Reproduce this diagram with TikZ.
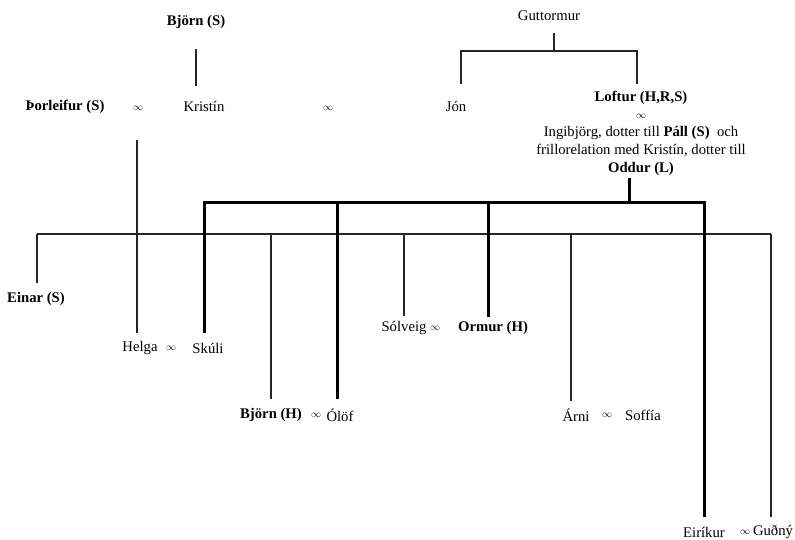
\documentclass[tikz,border=0pt]{standalone}
\usepackage{fontspec}
\setmainfont{Liberation Serif}
\begin{document}
\begin{tikzpicture}[x=1pt,y=-1pt,
  every node/.style={font=\fontsize{14.7}{17.75}\selectfont, inner sep=0pt},
  marr/.style={font=\fontsize{10}{12}\selectfont},
  thinline/.style={line width=1.1pt, draw=black!85},
  thickline/.style={line width=3pt, draw=black}]
\useasboundingbox (0,0) rectangle (795,539);
% people
\node (bjornS) at (196,22) {\textbf{Björn (S)}};
\node (thorleifur) at (65,107) {\textbf{Þorleifur (S)}};
\node[marr] (m1) at (138,108) {$\infty$};
\node (kristin) at (204,106) {Kristín};
\node[marr] (m2) at (328,108) {$\infty$};
\node (jon) at (456,106) {Jón};
\node (gutt) at (549,16) {Guttormur};
\node[align=center] (loftur) at (641,133) {\textbf{Loftur (H,R,S)}\\ {\fontsize{10}{12}\selectfont$\infty$}\\ Ingibjörg, dotter till \textbf{Páll (S)}~ och\\ frillorelation med Kristín, dotter till\\ \textbf{Oddur (L)}};
\node (einar) at (36,299) {\textbf{Einar (S)}};
\node (helga) at (140,348) {Helga};
\node[marr] (m3) at (171,348) {$\infty$};
\node (skuli) at (208,348) {Skúli};
\node (solveig) at (404,328) {Sólveig};
\node[marr] (m4) at (435,328) {$\infty$};
\node (ormur) at (493,328) {\textbf{Ormur (H)}};
\node (bjornH) at (271,415) {\textbf{Björn (H)}};
\node[marr] (m5) at (316,415) {$\infty$};
\node (olof) at (340,415) {Ólöf};
\node (arni) at (576,415) {Árni};
\node[marr] (m6) at (607,415) {$\infty$};
\node (soffia) at (643,415) {Soffía};
\node (eirikur) at (704,532) {Eiríkur};
\node[marr] (m7) at (745,532) {$\infty$};
\node (gudny) at (773,532) {Guðný};
% junction coordinates
\coordinate (bjS1) at (196,49);
\coordinate (bjS2) at (196,86);
\coordinate (g0) at (554,33);
\coordinate (g1) at (554,51);
\coordinate (gl) at (461,51);
\coordinate (gle) at (461,84);
\coordinate (gr) at (637,51);
\coordinate (gre) at (637,84);
\coordinate (t0) at (137,140);
\coordinate (t1) at (137,333);
\coordinate (hL) at (37,234);
\coordinate (hR) at (771,234);
\coordinate (einarE) at (37,283);
\coordinate (bh0) at (271,234);
\coordinate (bhE) at (271,399);
\coordinate (so0) at (404,234);
\coordinate (soE) at (404,316);
\coordinate (ar0) at (571,234);
\coordinate (arE) at (571,401);
\coordinate (guE) at (771,517);
\coordinate (o0) at (629,178);
\coordinate (o1) at (629,202);
\coordinate (kL) at (204,202);
\coordinate (kLE) at (204,333);
\coordinate (kR) at (704,202);
\coordinate (kRE) at (704,517);
\coordinate (ol0) at (337,202);
\coordinate (olE) at (337,399);
\coordinate (or0) at (488,202);
\coordinate (orE) at (488,317);
% thin connectors
\draw[thinline] (bjS1) -- (bjS2);
\draw[thinline] (g0) -- (g1);
\draw[thinline] (gle) -- (gl) -- (gr) -- (gre);
\draw[thinline] (t0) -- (t1);
\draw[thinline] (hL) -- (hR);
\draw[thinline] (hL) -- (einarE);
\draw[thinline] (bh0) -- (bhE);
\draw[thinline] (so0) -- (soE);
\draw[thinline] (ar0) -- (arE);
\draw[thinline] (hR) -- (guE);
% thick connectors
\draw[thickline] (o0) -- (o1);
\draw[thickline] (kLE) -- (kL) -- (kR) -- (kRE);
\draw[thickline] (ol0) -- (olE);
\draw[thickline] (or0) -- (orE);
\end{tikzpicture}
\end{document}
